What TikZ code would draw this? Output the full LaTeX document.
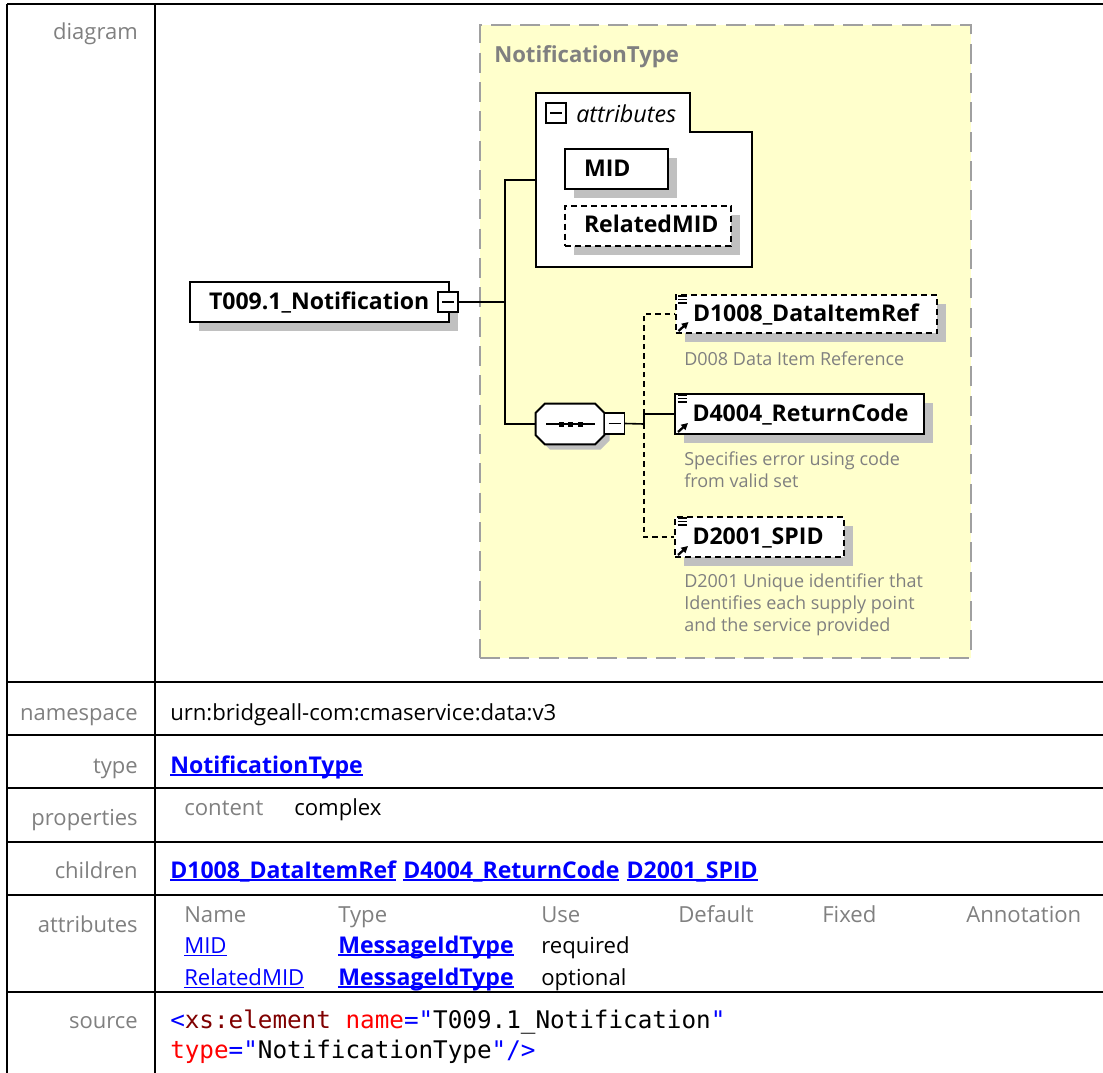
\documentclass[tikz,border=0pt]{standalone}
\usepackage{fontspec}
\setmainfont{Open Sans}
\setmonofont{DejaVu Sans Mono}
\usepackage{xcolor}
\usetikzlibrary{positioning, arrows.meta, calc, shadows}

\definecolor{xsdyellow}{HTML}{FFFFCC}
\definecolor{xsdgray}{HTML}{808080}
\definecolor{xsdshadow}{HTML}{C0C0C0}
\definecolor{xsddash}{HTML}{A0A0A0}
\definecolor{xsdlink}{HTML}{0000FF}
\definecolor{xsdtag}{HTML}{800000}
\definecolor{xsdattr}{HTML}{FF0000}

\hyphenpenalty=10000
\exhyphenpenalty=10000

\newcommand{\linktext}[1]{\setbox0\hbox{\fontsize{17.3}{19}\selectfont\bfseries #1}\rlap{\rule[-2.6pt]{\wd0}{1.5pt}}\box0}
\newcommand{\plainlink}[1]{\setbox0\hbox{#1}\rlap{\rule[-2.6pt]{\wd0}{1.2pt}}\box0}
\newcommand{\elemmarks}[1]{%
  \draw[line width=1pt] ($(#1.north west)+(3.5,2)$) -- +(9,0)
    ($(#1.north west)+(3.5,5.5)$) -- +(9,0) ($(#1.north west)+(3.5,9)$) -- +(9,0);
  \draw[line width=1.7pt, -{Triangle[length=5pt, width=5pt]}]
    ($(#1.south west)+(4,-3)$) -- +(10,-9);}

\begin{document}
\begin{tikzpicture}[
  x=0.75pt, y=-0.75pt,
  rowlabel/.style={anchor=base east, inner sep=0, text=xsdgray,
    font=\fontsize{16.5}{19}\selectfont},
  cell/.style={anchor=base west, inner sep=0, font=\fontsize{16.6}{19}\selectfont},
  tablerule/.style={line width=2pt},
  grp/.style={draw=xsddash, fill=xsdyellow, line width=1.5pt,
    dash pattern=on 15pt off 7pt, minimum width=368.25pt, minimum height=474.75pt},
  tabline/.style={draw, fill=white, line width=1.5pt},
  elem/.style={draw, fill=white, line width=1.5pt, align=left,
    inner xsep=13.125pt, inner ysep=0pt, minimum height=30pt,
    text height=13pt, text depth=2.5pt,
    font=\fontsize{17.3}{20}\selectfont\bfseries,
    drop shadow={shadow xshift=6.75pt, shadow yshift=-6.75pt, fill=xsdshadow, opacity=1}},
  optbox/.style={elem, dash pattern=on 4.5pt off 3pt},
  octline/.style={draw, fill=white, line width=1.5pt,
    drop shadow={shadow xshift=4pt, shadow yshift=-4pt, fill=xsdshadow, opacity=1}},
  pm/.style={draw, fill=white, line width=1pt, minimum width=15pt,
    minimum height=15pt, inner sep=0},
  wire/.style={line width=1.2pt},
  optwire/.style={wire, dash pattern=on 4pt off 3pt},
  desc/.style={anchor=base west, inner sep=0, align=left, text=xsdgray,
    font=\fontsize{13.5}{16.3}\selectfont}
]
\useasboundingbox (0,0) rectangle (1103,1072);
\fill[white] (0,0) rectangle (1103,1072);

\draw[tablerule] (7,4) -- (1110,4) (7,682) -- (1110,682) (7,735) -- (1110,735)
  (7,788) -- (1110,788) (7,842) -- (1110,842) (7,895) -- (1110,895)
  (7,992) -- (1110,992) (7,4) -- (7,1080) (155,4) -- (155,1080);

\node[rowlabel] (lbldiagram) at (138,39) {diagram};
\node[rowlabel] (lblns) at (138,720) {namespace};
\node[rowlabel] (lbltype) at (138,773) {type};
\node[rowlabel] (lblprops) at (138,825) {properties};
\node[rowlabel] (lblchildren) at (138,878) {children};
\node[rowlabel] (lblattrs) at (138,932) {attributes};
\node[rowlabel] (lblsource) at (138,1028) {source};

\node[cell] (nsval) at (170,720) {urn:bridgeall-com:cmaservice:data:v3};
\node[cell, text=xsdlink] (typeval) at (170,773) {\linktext{NotificationType}};
\node[cell, text=xsdgray] (propkey) at (184,815) {content};
\node[cell] (propval) at (294,815) {complex};
\node[cell, text=xsdlink] (childa) at (170,878) {\linktext{D1008\_DataItemRef}};
\node[cell, text=xsdlink, base right=5pt of childa] (childb) {\linktext{D4004\_ReturnCode}};
\node[cell, text=xsdlink, base right=5pt of childb] (childc) {\linktext{D2001\_SPID}};

\node[cell, text=xsdgray] (hdname) at (184,922) {Name};
\node[cell, text=xsdgray] (hdtype) at (338,922) {Type};
\node[cell, text=xsdgray] (hduse) at (541,922) {Use};
\node[cell, text=xsdgray] (hddefault) at (678,922) {Default};
\node[cell, text=xsdgray] (hdfixed) at (822,922) {Fixed};
\node[cell, text=xsdgray] (hdnote) at (966,922) {Annotation};
\node[cell, text=xsdlink] (midname) at (184,953) {\plainlink{MID}};
\node[cell, text=xsdlink] (midtype) at (338,953) {\linktext{MessageIdType}};
\node[cell] (miduse) at (541,953) {required};
\node[cell, text=xsdlink] (relname) at (184,985) {\plainlink{RelatedMID}};
\node[cell, text=xsdlink] (reltype) at (338,985) {\linktext{MessageIdType}};
\node[cell] (reluse) at (541,985) {optional};

\node[cell, font=\ttfamily\fontsize{18.2}{23}\selectfont] (srcline1) at (170,1028)
  {\textcolor{xsdlink}{<}\textcolor{xsdtag}{xs:element} \textcolor{xsdattr}{name}\textcolor{xsdlink}{="}T009.1\_Notification\textcolor{xsdlink}{"}};
\node[cell, font=\ttfamily\fontsize{18.2}{23}\selectfont] (srcline2) at (170,1058)
  {\textcolor{xsdattr}{type}\textcolor{xsdlink}{="}NotificationType\textcolor{xsdlink}{"/>}};

\node[grp] (typegrp) at (725.5,341.5) {};
\node[anchor=base west, inner sep=0, text=xsdgray, font=\fontsize{16.6}{20}\selectfont\bfseries]
  (typetitle) at (494,62) {NotificationType};

\node[elem, anchor=west, inner xsep=14.25pt, text width=165.75pt] (root) at (189,302) {T009.1\_Notification};
\node[pm] (rootpm) at (448,302) {\rule{9pt}{1pt}};

\node[inner sep=0, minimum width=162pt, minimum height=130.5pt] (attrgrp) at (644,180) {};
\draw[tabline] (attrgrp.south west) -- (attrgrp.north west) -- ($(attrgrp.north west)+(154,0)$)
  -- ($(attrgrp.north west)+(154,39)$) -- ($(attrgrp.north east)+(0,39)$) -- (attrgrp.south east) -- cycle;
\node[pm] (attrpm) at (556,113) {\rule{9pt}{1pt}};
\node[anchor=base west, inner sep=0, font=\fontsize{17.5}{20}\selectfont\itshape] (attrlabel) at (576,122) {attributes};
\node[elem, anchor=west, inner xsep=14.25pt, text width=48.75pt] (mid) at (564,169) {MID};
\node[optbox, anchor=west, inner xsep=14.25pt, text width=96pt] (relmid) at (564,225.5) {RelatedMID};

\node[inner sep=0, minimum width=51pt, minimum height=30pt] (seq) at (570,424) {};
\draw[octline] ($(seq.north west)+(9,0)$) -- ($(seq.north east)+(-9,0)$) -- ($(seq.north east)+(0,9)$)
  -- ($(seq.south east)+(0,-9)$) -- ($(seq.south east)+(-9,0)$) -- ($(seq.south west)+(9,0)$)
  -- ($(seq.south west)+(0,-9)$) -- ($(seq.north west)+(0,9)$) -- cycle;
\draw[wire] ($(seq.center)+(-24,0)$) -- ($(seq.center)+(25,0)$);
\foreach \dx in {-9,0,10} \fill ($(seq.center)+(\dx-2.5,-2.5)$) rectangle +(5,5);
\node[pm, minimum height=15.75pt] (seqpm) at (614.5,423.5) {\rule{9pt}{1pt}};
\coordinate (fork) at (505,302);
\coordinate (hub) at (644,424);

\node[optbox, anchor=west, text width=169.9pt, minimum height=28.5pt] (d1008) at (674.5,314) {D1008\_DataItemRef};
\node[elem, anchor=west, text width=160.5pt] (d4004) at (674,414) {D4004\_ReturnCode};
\node[optbox, anchor=west, text width=100.5pt] (d2001) at (674,537) {D2001\_SPID};
\elemmarks{d1008}
\elemmarks{d4004}
\elemmarks{d2001}

\node[desc] (d1008note) at (684,365) {D008 Data Item Reference};
\node[desc] (d4004note) at (684,487) {Specifies error using code\\from valid set};
\node[desc] (d2001note) at (684,631) {D2001 Unique identifier that\\Identifies each supply point\\and the service provided};

\draw[wire] (rootpm) -- (fork);
\draw[wire] (attrgrp.west) -| (fork) |- (seq.west);
\draw[optwire] (hub) |- (d1008.west);
\draw[optwire] (hub) |- (d2001.west);
\draw[wire] (seqpm.east) -- (hub) |- (d4004.west);
\end{tikzpicture}
\end{document}
